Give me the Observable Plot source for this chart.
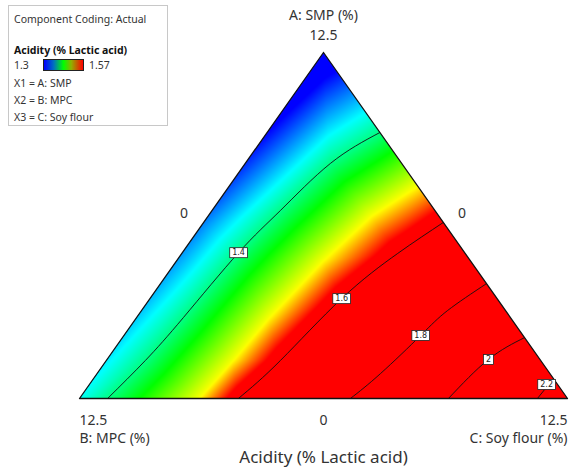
<!DOCTYPE html>
<html><head><meta charset="utf-8">
<script src="https://cdn.jsdelivr.net/npm/d3@7"></script>
<script src="https://cdn.jsdelivr.net/npm/@observablehq/plot@0.6"></script>
<style>
body{margin:0;background:#fff;}
#wrap{position:relative;width:572px;height:469px;font-family:"Noto Sans",sans-serif;color:#333;}
#legend{position:absolute;left:8px;top:5px;width:160px;height:121px;border:1px solid #c8c8c8;box-sizing:border-box;background:#fff;font-size:10.5px;}
#legend div{position:absolute;left:5px;white-space:nowrap;line-height:12px;}
#ramp{position:absolute;left:34px;top:53px;width:41px;height:12px;border:1px solid #222;box-sizing:border-box;
  background:linear-gradient(to right,#0000ff,#0070c0 25%,#00ff00 50%,#90b000 70%,#ff0000);}
</style></head>
<body><div id="wrap">
<div id="chart"></div>
<div id="legend">
  <div style="top:7px">Component Coding: Actual</div>
  <div style="top:38px;font-weight:bold;color:#111">Acidity (% Lactic acid)</div>
  <div style="top:53px">1.3</div>
  <span id="ramp"></span>
  <div style="top:53px;left:80px">1.57</div>
  <div style="top:71px">X1 = A: SMP</div>
  <div style="top:88px">X2 = B: MPC</div>
  <div style="top:105px">X3 = C: Soy flour</div>
</div>
</div>
<script>
// Sample points: A (SMP %), C (Soy flour %), acidity value
const smp     = [12.5, 0,    0,    6.25,  0,    1.37, 2.93, 5.27, 6.79, 8.49, 9.61,  0,    1.37, 2.93, 4.99, 6.61, 7.70,  0,    1.37, 3.61, 5.24, 6.36,  0,    0.90, 2.28, 3.18, 4.15,  0,    1.41, 2.20,  0,     0.72];
const soy     = [0,    0,    12.5, 0,     0.72, 1.00, 1.20, 1.44, 1.75, 2.18, 2.89,  3.05, 3.23, 3.38, 3.73, 4.15, 4.80,  4.07, 4.46, 4.91, 5.53, 6.14,  6.94, 7.26, 7.60, 7.84, 8.35,  9.45, 9.77, 10.30, 11.73, 11.78];
const acidity = [1.27, 1.37, 2.27, 1.335, 1.4,  1.4,  1.4,  1.4,  1.4,  1.4,  1.4,   1.5,  1.5,  1.5,  1.5,  1.5,  1.5,   1.6,  1.6,  1.6,  1.6,  1.6,   1.8,  1.8,  1.8,  1.8,  1.8,   2.0,  2.0,  2.0,   2.2,   2.2];

const contourLevels = [1.4, 1.6, 1.8, 2.0, 2.2];
const labelText = ["1.4", "1.6", "1.8", "2", "2.2"];
const labelSmp  = [5.27, 3.61, 2.28, 1.41, 0.51];
const labelSoy  = [1.44, 4.91, 7.60, 9.77, 11.71];

const colorStops = [1.3, 1.3675, 1.435, 1.5025, 1.57];
const colorRange = ["#0000ff", "#00ffff", "#00ff00", "#ffff00", "#ff0000"];

const vertexNames = ["A: SMP (%)", "B: MPC (%)", "C: Soy flour (%)"];
const vertexTicks = ["12.5", "12.5", "12.5"];
const zeroTicks = ["0", "0", "0"];
const chartTitle = "Acidity (% Lactic acid)";
const maxPct = 12.5;

const pts = smp.map((a, i) => ({a, c: soy[i], v: acidity[i]}));
const isoPts = pts.filter(d => contourLevels.includes(d.v));
const labels = labelText.map((t, i) => ({t, a: labelSmp[i], c: labelSoy[i]}));
const X = d => d.c + d.a / 2;
const Y = d => d.a;
const verts = [{a: maxPct, c: 0}, {a: 0, c: 0}, {a: 0, c: maxPct}, {a: maxPct, c: 0}];

const ext = {x1: 0, y1: 0, x2: maxPct, y2: maxPct};
const txt = {fill: "#333", fontFamily: "Noto Sans, sans-serif"};

const plot = Plot.plot({
  width: 572, height: 469,
  marginLeft: 79, marginRight: 5, marginTop: 52, marginBottom: 71,
  x: {domain: [0, maxPct], axis: null},
  y: {domain: [0, maxPct], axis: null},
  color: {type: "linear", domain: colorStops, range: colorRange, clamp: true},
  marks: [
    Plot.raster(pts, {x: X, y: Y, fill: "v", interpolate: "barycentric", ...ext, pixelSize: 1}),
    Plot.line(isoPts, {x: X, y: Y, z: "v", curve: "natural", stroke: "#111", strokeWidth: 0.9}),
    Plot.line(verts, {x: X, y: Y, stroke: "#111", strokeWidth: 1.3}),
    Plot.text(labels, {x: X, y: Y, text: "t", fontSize: 8, fill: "#222", fontFamily: "DejaVu Sans, sans-serif"}),
    // Apex A
    Plot.text([vertexTicks[0]], {x: () => maxPct / 2, y: () => maxPct, text: d => d, dy: -17, fontSize: 14, ...txt}),
    Plot.text([vertexNames[0]], {x: () => maxPct / 2, y: () => maxPct, text: d => d, dy: -37, fontSize: 14, ...txt}),
    // zero ticks on the side edges and bottom
    Plot.text([zeroTicks[0]], {x: () => 3.34, y: () => 6.68, text: d => d, dx: -26, fontSize: 14, ...txt}),
    Plot.text([zeroTicks[1]], {x: () => 9.16, y: () => 6.68, text: d => d, dx: 25, fontSize: 14, ...txt}),
    Plot.text([zeroTicks[2]], {x: () => maxPct / 2, y: () => 0, text: d => d, dy: 22, fontSize: 14, ...txt}),
    // bottom corners
    Plot.text([vertexTicks[1]], {x: () => 0, y: () => 0, text: d => d, dy: 22, textAnchor: "start", fontSize: 14, ...txt}),
    Plot.text([vertexTicks[2]], {x: () => maxPct, y: () => 0, text: d => d, dy: 22, textAnchor: "end", fontSize: 14, ...txt}),
    Plot.text([vertexNames[1]], {x: () => 0, y: () => 0, text: d => d, dy: 40, textAnchor: "start", fontSize: 14, ...txt}),
    Plot.text([vertexNames[2]], {x: () => maxPct, y: () => 0, text: d => d, dy: 40, textAnchor: "end", fontSize: 14, ...txt}),
    Plot.text([chartTitle], {x: () => maxPct / 2, y: () => 0, text: d => d, dy: 59, fontSize: 17, ...txt})
  ]
});

document.getElementById("chart").appendChild(plot);

// clip the field and isolines to the triangle
const sx = plot.scale("x"), sy = plot.scale("y");
const poly = verts.slice(0, 3).map(d => [sx.apply(X(d)), sy.apply(Y(d))].join(",")).join(" ");
const svg = d3.select(plot);
svg.insert("defs", ":first-child").append("clipPath").attr("id", "triclip")
  .attr("clipPathUnits", "userSpaceOnUse")
  .append("polygon").attr("points", poly);
plot.querySelectorAll("image").forEach(img => img.parentNode.setAttribute("clip-path", "url(#triclip)"));
const lineGroups = plot.querySelectorAll('g[aria-label="line"]');
if (lineGroups.length) lineGroups[0].setAttribute("clip-path", "url(#triclip)");

// white boxes behind isoline labels (first text mark)
const labelGroup = plot.querySelector('g[aria-label="text"]');
d3.select(labelGroup).selectAll("text").each(function() {
  const b = this.getBBox();
  d3.select(this.parentNode).insert("rect", () => this)
    .attr("transform", this.getAttribute("transform"))
    .attr("x", b.x - 2.5).attr("y", b.y - 0.5)
    .attr("width", b.width + 5).attr("height", b.height + 1)
    .attr("fill", "#fff").attr("stroke", "#222").attr("stroke-width", 0.8);
});
</script>
</body></html>
